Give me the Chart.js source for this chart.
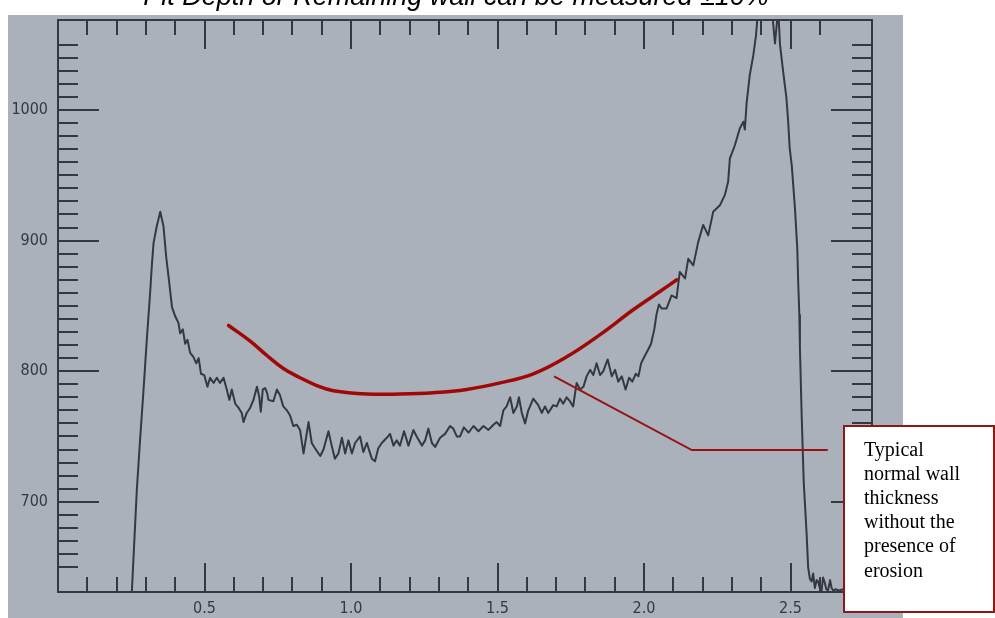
<!DOCTYPE html>
<html>
<head>
<meta charset="utf-8">
<script src="https://cdn.jsdelivr.net/npm/chart.js@4.4.1/dist/chart.umd.min.js"></script>
<style>
  html, body { margin: 0; padding: 0; background: #ffffff; }
  #wrap { width: 995px; height: 618px; position: relative; }
</style>
</head>
<body>
<div id="wrap"><canvas id="scanChart"></canvas></div>
<script>
// scan trace (position vs. wall reading)
const scanX = [0.240, 0.252, 0.269, 0.280, 0.292, 0.303, 0.315, 0.320, 0.326, 0.337, 0.349, 0.360, 0.369, 0.380, 0.389,
  0.400, 0.411, 0.417, 0.426, 0.434, 0.442, 0.451, 0.462, 0.472, 0.480, 0.488, 0.499, 0.510, 0.519, 0.531,
  0.542, 0.553, 0.565, 0.576, 0.585, 0.593, 0.605, 0.616, 0.627, 0.633, 0.644, 0.656, 0.667, 0.679, 0.687,
  0.692, 0.699, 0.707, 0.714, 0.718, 0.735, 0.747, 0.757, 0.769, 0.781, 0.792, 0.803, 0.815, 0.826, 0.838,
  0.855, 0.866, 0.877, 0.895, 0.906, 0.923, 0.934, 0.945, 0.957, 0.969, 0.980, 0.991, 1.003, 1.014, 1.031,
  1.042, 1.054, 1.071, 1.082, 1.093, 1.105, 1.122, 1.133, 1.145, 1.156, 1.167, 1.181, 1.196, 1.213, 1.224,
  1.242, 1.253, 1.264, 1.276, 1.287, 1.304, 1.321, 1.338, 1.349, 1.361, 1.372, 1.385, 1.401, 1.418, 1.435,
  1.452, 1.469, 1.486, 1.497, 1.509, 1.520, 1.531, 1.543, 1.554, 1.566, 1.573, 1.583, 1.594, 1.605, 1.622,
  1.639, 1.651, 1.662, 1.673, 1.690, 1.702, 1.713, 1.724, 1.736, 1.747, 1.758, 1.770, 1.782, 1.793, 1.804,
  1.816, 1.827, 1.838, 1.850, 1.861, 1.876, 1.890, 1.901, 1.912, 1.924, 1.937, 1.949, 1.960, 1.972, 1.981,
  1.990, 2.001, 2.013, 2.024, 2.035, 2.043, 2.051, 2.060, 2.077, 2.094, 2.111, 2.122, 2.140, 2.151, 2.168,
  2.185, 2.202, 2.219, 2.236, 2.259, 2.276, 2.287, 2.293, 2.310, 2.327, 2.339, 2.344, 2.350, 2.361, 2.373,
  2.382, 2.386, 2.395, 2.437, 2.440, 2.447, 2.454, 2.457, 2.460, 2.464, 2.475, 2.486, 2.492, 2.497, 2.504,
  2.515, 2.523, 2.526, 2.530, 2.532, 2.538, 2.545, 2.555, 2.560, 2.566, 2.572, 2.577, 2.583, 2.589, 2.594,
  2.600, 2.606, 2.611, 2.617, 2.622, 2.628, 2.635, 2.640, 2.646, 2.655, 2.665, 2.680, 2.700];
const scanY = [600, 631, 709, 747, 786, 824, 862, 880, 898, 911, 922, 911, 888, 867, 849,
  842, 837, 829, 832, 821, 824, 814, 811, 806, 810, 798, 797, 788, 795, 791,
  795, 791, 795, 786, 778, 786, 775, 772, 768, 761, 768, 772, 778, 788, 780,
  769, 786, 787, 783, 778, 777, 786, 782, 773, 770, 766, 758, 759, 755, 737,
  761, 745, 741, 735, 740, 754, 743, 733, 737, 749, 737, 747, 737, 745, 750,
  738, 745, 733, 731, 741, 745, 749, 752, 743, 747, 743, 754, 743, 755, 750,
  743, 747, 756, 745, 742, 749, 752, 758, 756, 750, 750, 757, 753, 758, 754,
  758, 755, 759, 761, 758, 770, 773, 780, 768, 773, 780, 768, 760, 770, 779,
  774, 768, 773, 768, 774, 773, 779, 775, 780, 777, 773, 791, 786, 788, 796,
  801, 797, 806, 797, 800, 809, 796, 801, 792, 796, 786, 795, 792, 798, 796,
  806, 811, 816, 821, 832, 844, 851, 848, 848, 858, 856, 876, 871, 886, 881,
  899, 912, 904, 922, 927, 935, 945, 963, 973, 986, 991, 985, 1005, 1027, 1042,
  1057, 1068, 1090, 1090, 1068, 1051, 1068, 1090, 1068, 1050, 1029, 1009, 991, 971, 958,
  925, 894, 869, 843, 818, 766, 715, 675, 650, 641, 639, 645, 634, 640, 639,
  634, 632, 642, 638, 633, 632, 640, 634, 632, 633, 632, 633, 632];

// hand-drawn "normal wall" reference curve
const normalX = [0.582, 0.656, 0.713, 0.769, 0.826, 0.883, 0.940, 1.054, 1.167, 1.281, 1.395, 1.509, 1.622, 1.736, 1.850, 1.963, 2.054, 2.112];
const normalY = [835, 823, 812, 802, 795, 789, 785, 782.5, 782.5, 783.5, 786, 791, 798, 811, 828, 847, 861, 870];

// leader line to the note
const leaderX = [1.693, 2.163, 2.627];
const leaderY = [796, 739.6, 739.6];

const titleText = 'Pit Depth or Remaining wall can be measured \u00b110%';
const noteLines = ['Typical', 'normal wall', 'thickness', 'without the', 'presence of', 'erosion'];
const noteBox = { x: 2.683, yTop: 758, yBottom: 615.5 };

const photoGray = '#aab1bb';
const inkColor = '#35393f';
const redInk = '#a00808';

const toPoints = (xs, ys) => xs.map((x, i) => ({ x: x, y: ys[i] }));

const chartDecor = {
  id: 'chartDecor',
  beforeDraw(chart) {
    const ctx = chart.ctx;
    ctx.save();
    ctx.fillStyle = '#ffffff';
    ctx.fillRect(0, 0, chart.width, chart.height);
    ctx.fillStyle = photoGray;
    ctx.fillRect(8, 15, 895, chart.height - 15);
    ctx.restore();
  },
  beforeDatasetsDraw(chart) {
    const ctx = chart.ctx;
    const xs = chart.scales.x, ys = chart.scales.y;
    const { left, right, top, bottom } = chart.chartArea;
    ctx.save();
    ctx.strokeStyle = inkColor;
    ctx.lineWidth = 2;
    ctx.beginPath();
    xs.ticks.forEach(t => {
      const k = Math.round(t.value * 10);
      if (Math.abs(t.value * 10 - k) > 1e-6 || k === 0) return;
      const px = Math.round(xs.getPixelForValue(t.value));
      const len = k % 5 === 0 ? 29 : 15;
      ctx.moveTo(px, bottom); ctx.lineTo(px, bottom - len);
      ctx.moveTo(px, top); ctx.lineTo(px, top + len);
    });
    ys.ticks.forEach(t => {
      const k = Math.round(t.value / 10);
      if (Math.abs(t.value / 10 - k) > 1e-6) return;
      const py = Math.round(ys.getPixelForValue(t.value));
      const len = k % 10 === 0 ? 41 : 20;
      ctx.moveTo(left, py); ctx.lineTo(left + len, py);
      ctx.moveTo(right, py); ctx.lineTo(right - len, py);
    });
    ctx.stroke();
    ctx.strokeRect(left, top, right - left, bottom - top);
    ctx.restore();
  },
  afterDraw(chart) {
    const ctx = chart.ctx;
    const xs = chart.scales.x, ys = chart.scales.y;
    const bx = Math.round(xs.getPixelForValue(noteBox.x));
    const by = Math.round(ys.getPixelForValue(noteBox.yTop));
    const bb = Math.round(ys.getPixelForValue(noteBox.yBottom));
    ctx.save();
    ctx.fillStyle = '#ffffff';
    ctx.fillRect(bx, by, chart.width - bx, bb - by);
    ctx.strokeStyle = '#8e1818';
    ctx.lineWidth = 2;
    ctx.strokeRect(bx, by, chart.width - 1 - bx, bb - by);
    ctx.fillStyle = '#000000';
    ctx.font = '20px "Liberation Serif", "Times New Roman", serif';
    ctx.textBaseline = 'alphabetic';
    noteLines.forEach((s, i) => ctx.fillText(s, bx + 20, by + 30 + i * 24.1));
    ctx.restore();
  }
};

const tickFont = { family: '"Liberation Sans Narrow", "DejaVu Sans Condensed", "Arial Narrow", sans-serif', size: 16 };

new Chart(document.getElementById('scanChart'), {
  type: 'line',
  data: {
    datasets: [
      {
        label: 'Normal wall',
        data: toPoints(normalX, normalY),
        borderColor: redInk,
        borderWidth: 3.5,
        borderCapStyle: 'round',
        pointRadius: 0,
        tension: 0.4,
        order: 0
      },
      {
        label: 'Leader',
        data: toPoints(leaderX, leaderY),
        borderColor: '#981212',
        borderWidth: 2,
        pointRadius: 0,
        tension: 0,
        order: 0
      },
      {
        label: 'Scan',
        data: toPoints(scanX, scanY),
        borderColor: inkColor,
        borderWidth: 2,
        borderJoinStyle: 'round',
        pointRadius: 0,
        tension: 0,
        order: 1
      }
    ]
  },
  options: {
    responsive: true,
    maintainAspectRatio: false,
    animation: false,
    events: [],
    // right padding + spacer axis keep the title centred on the photo
    layout: { padding: { left: 0, right: 83, top: 0, bottom: 0 } },
    plugins: {
      legend: { display: false },
      tooltip: { enabled: false },
      title: {
        display: true,
        text: titleText,
        color: '#000000',
        font: { family: '"Liberation Sans", Arial, sans-serif', size: 27, style: 'italic', weight: 'normal' },
        padding: { top: -18.7, bottom: 6.3 }
      }
    },
    scales: {
      x: {
        type: 'linear',
        min: 0,
        max: 2.778,
        border: { display: false },
        grid: { display: false, drawTicks: false },
        ticks: {
          stepSize: 0.1,
          autoSkip: false,
          maxRotation: 0,
          padding: 7,
          color: inkColor,
          font: tickFont,
          callback: v => {
            const k = Math.round(v * 10);
            return (Math.abs(v * 10 - k) < 1e-6 && k > 0 && k % 5 === 0) ? (k / 10).toFixed(1) : '';
          }
        },
        afterFit: s => { s.height = 26; }
      },
      y: {
        type: 'linear',
        min: 630.9,
        max: 1068.9,
        border: { display: false },
        grid: { display: false, drawTicks: false },
        ticks: {
          stepSize: 10,
          autoSkip: false,
          padding: 10,
          color: inkColor,
          font: tickFont,
          callback: v => (Math.abs(v % 100) < 1e-6 ? String(v) : '')
        },
        afterFit: s => { s.width = 58; }
      },
      ySpacer: {
        type: 'linear',
        position: 'right',
        display: true,
        border: { display: false },
        grid: { display: false, drawTicks: false },
        ticks: { display: false },
        afterFit: s => { s.width = 40; }
      }
    }
  },
  plugins: [chartDecor]
});
</script>
</body>
</html>
